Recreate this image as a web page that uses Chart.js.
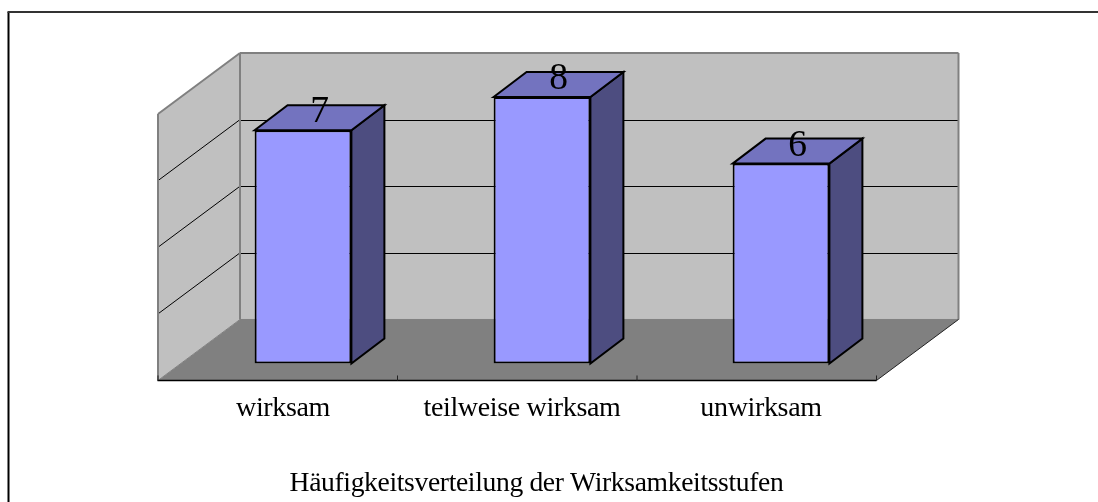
<!DOCTYPE html>
<html lang="de">
<head>
<meta charset="utf-8">
<style>html,body{margin:0;padding:0;background:#fff}canvas{display:block}</style>
<script src="https://cdn.jsdelivr.net/npm/chart.js@4"></script>
</head>
<body>
<canvas id="c" width="1098" height="502" style="width:1098px;height:502px"></canvas>
<script>
const categories = ["wirksam", "teilweise wirksam", "unwirksam"];
const values = [7, 8, 6];
const chartTitle = "Häufigkeitsverteilung der Wirksamkeitsstufen";
const yMax = 8;
const yStep = 2;

const serif = "'Liberation Serif', serif";
const toFront = {dx: -25.5, dy: 17};
const toBack = {dx: 56.5, dy: -44};
const barDepth = {dx: 33, dy: -25};
const planeScale = 718.5 / 717;

function poly(ctx, pts, fill, stroke, lw) {
  ctx.beginPath();
  pts.forEach((p, i) => i ? ctx.lineTo(p[0], p[1]) : ctx.moveTo(p[0], p[1]));
  ctx.closePath();
  if (fill) { ctx.fillStyle = fill; ctx.fill(); }
  if (stroke) { ctx.strokeStyle = stroke; ctx.lineWidth = lw; ctx.lineJoin = 'miter'; ctx.stroke(); }
}
function line(ctx, x1, y1, x2, y2, color, lw) {
  ctx.beginPath(); ctx.moveTo(x1, y1); ctx.lineTo(x2, y2);
  ctx.strokeStyle = color; ctx.lineWidth = lw; ctx.stroke();
}

const frame3d = {
  id: 'frame3d',
  afterLayout(chart) {
    chart.titleBlock.left = 172.5;
  },
  beforeDraw(chart) {
    chart.ctx.letterSpacing = '-0.35px';
  },
  beforeDatasetsDraw(chart) {
    const ctx = chart.ctx, {x, y} = chart.scales;
    const l = x.left, planeW = (x.right - x.left) * planeScale;
    const y0 = y.getPixelForValue(0), yT = y.getPixelForValue(yMax);
    const fl = l + toFront.dx, fr = fl + planeW;
    const bl = l + toBack.dx, br = bl + planeW;
    const fd = toFront.dy, bd = toBack.dy;
    ctx.save();
    // page frame
    line(ctx, 8.5, 12, 8.5, chart.height, '#000', 2);
    line(ctx, 7.5, 12, chart.width, 12, '#333', 2);
    // floor
    poly(ctx, [[fl, y0 + fd], [fr, y0 + fd], [br, y0 + bd], [bl, y0 + bd]], '#808080');
    // side wall
    poly(ctx, [[fl, y0 + fd], [fl, yT + fd], [bl, yT + bd], [bl, y0 + bd]], '#C0C0C0');
    // back wall
    poly(ctx, [[bl, y0 + bd], [bl, yT + bd], [br, yT + bd], [br, y0 + bd]], '#C0C0C0');
    // grid lines
    for (let v = yStep; v < yMax; v += yStep) {
      const p = y.getPixelForValue(v);
      line(ctx, fl, p + fd, bl, p + bd, '#000', 1);
      line(ctx, bl, Math.round(p + bd) + .5, br, Math.round(p + bd) + .5, '#000', 1);
    }
    // wall edges
    ctx.lineCap = 'butt';
    line(ctx, fl, y0 + fd, fl, yT + fd, '#808080', 2);
    line(ctx, fl, yT + fd, bl, yT + bd, '#808080', 2);
    line(ctx, bl, yT + bd, bl, y0 + bd, '#808080', 2);
    line(ctx, bl, yT + bd, br, yT + bd, '#808080', 2);
    line(ctx, br, yT + bd, br, y0 + bd, '#808080', 2);
    line(ctx, bl, y0 + bd, br, y0 + bd, '#808080', 1);
    line(ctx, fl, y0 + fd, bl, y0 + bd, '#808080', 1);
    line(ctx, fr, y0 + fd, br, y0 + bd, '#222', 1);
    // front axis with upward ticks
    line(ctx, fl - .5, y0 + fd, fr, y0 + fd, '#000', 1.5);
    const w = planeW / categories.length;
    for (let i = 0; i <= categories.length; i++) {
      line(ctx, fl + i * w, y0 + fd - 5, fl + i * w, y0 + fd, '#222', 1);
    }
    ctx.restore();
  },
  afterDatasetsDraw(chart) {
    const ctx = chart.ctx, meta = chart.getDatasetMeta(0);
    ctx.save();
    meta.data.forEach((b, i) => {
      const hw = b.width / 2, L = b.x - hw, R = b.x + hw, T = b.y, B = b.base;
      const {dx, dy} = barDepth;
      poly(ctx, [[R, T], [R + dx, T + dy], [R + dx, B + dy], [R, B]], '#4D4D80', '#000', 2);
      poly(ctx, [[L, T], [L + dx, T + dy], [R + dx, T + dy], [R, T]], '#7373BF', '#000', 2);
      ctx.font = "37.5px " + serif;
      ctx.fillStyle = '#000';
      ctx.textAlign = 'center';
      ctx.textBaseline = 'alphabetic';
      ctx.fillText(String(values[i]), b.x + dx / 2, T - 8);
    });
    ctx.restore();
  }
};

const cv = document.getElementById('c');

new Chart(cv, {
  type: 'bar',
  data: {
    labels: categories,
    datasets: [{
      data: values,
      backgroundColor: '#9999FF',
      borderColor: '#000',
      borderWidth: 2,
      borderSkipped: false,
      barPercentage: 0.405,
      categoryPercentage: 1
    }]
  },
  options: {
    responsive: false,
    animation: false,
    layout: {padding: {left: 183.5, right: 197.5, top: 97, bottom: 0}},
    plugins: {
      legend: {display: false},
      tooltip: {enabled: false},
      title: {
        display: true,
        text: chartTitle,
        position: 'bottom',
        color: '#000',
        font: {family: serif, size: 27.6, weight: 'normal', lineHeight: 1.2},
        padding: {top: 0, bottom: 2}
      }
    },
    scales: {
      x: {
        grid: {display: false, drawTicks: false},
        border: {display: false},
        afterFit(s) { s.height = 502 - 363.5 - 35.1; },
        ticks: {
          color: '#000', padding: 28, labelOffset: -20, maxRotation: 0, autoSkip: false,
          font: {family: serif, size: 28}
        }
      },
      y: {display: false, min: 0, max: yMax, ticks: {stepSize: yStep}}
    }
  },
  plugins: [frame3d]
});
</script>
</body>
</html>
